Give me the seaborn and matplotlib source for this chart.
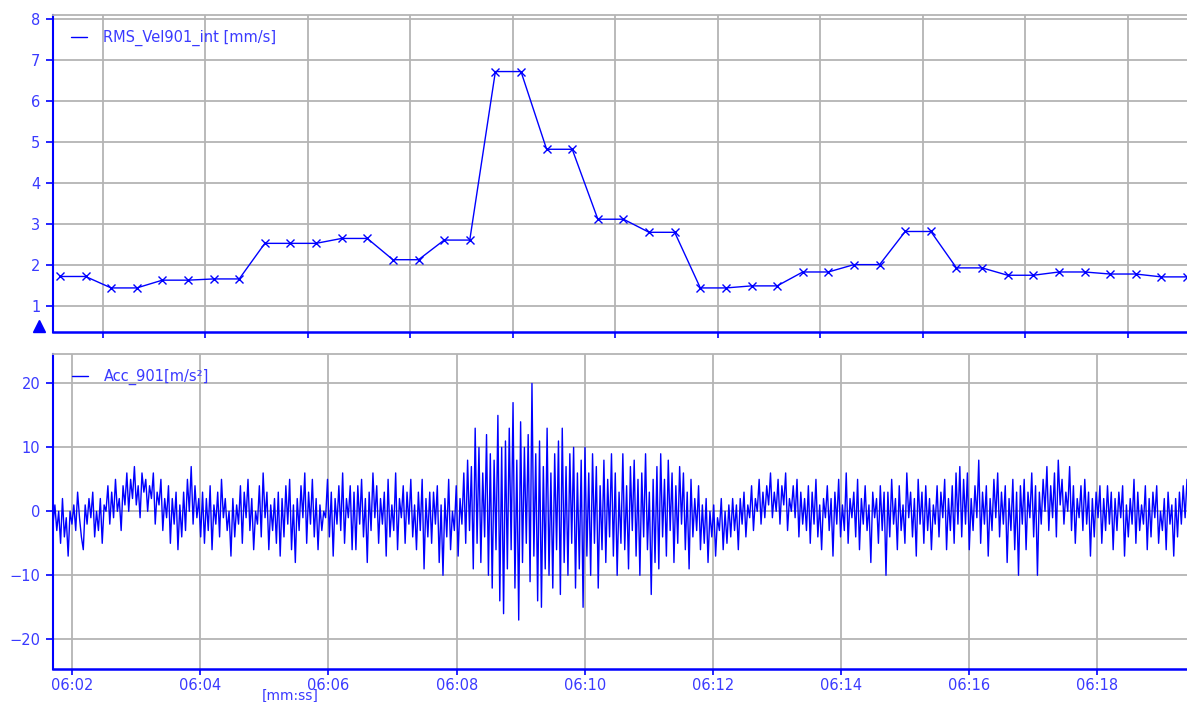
import numpy as np
import pandas as pd
import matplotlib
matplotlib.use("Agg")
import matplotlib.pyplot as plt
from matplotlib.lines import Line2D
from matplotlib.ticker import FixedLocator, FuncFormatter, NullFormatter
import seaborn as sns

# ---------------- data ----------------
# RMS velocity (top panel), one value per RMS block
rms_values = [1.71, 1.71, 1.43, 1.43, 1.62, 1.62, 1.65, 1.65, 2.52, 2.52,
              2.52, 2.64, 2.64, 2.12, 2.12, 2.60, 2.60, 6.72, 6.72, 4.82,
              4.82, 3.11, 3.11, 2.79, 2.79, 1.43, 1.43, 1.48, 1.48, 1.82,
              1.82, 2.00, 2.00, 2.81, 2.81, 1.92, 1.92, 1.74, 1.74, 1.82,
              1.82, 1.77, 1.77, 1.70, 1.70]
rms_label = "RMS_Vel901_int [mm/s]"

# Acceleration signal (bottom panel), sampled uniformly
acc_start_s = 361.70     # 06:01.70
acc_end_s = 379.40       # 06:19.40
acc_values = [
    -2, 1, -3, 0, -5, 2, -4, -1, -7, 0, -2, 1, -3, 3, -1, -4, -6, 1, -2, 2,
    -1, 3, -4, 0, -3, 2, -5, 1, 0, 4, -2, 3, -1, 5, 0, 2, -3, 4, 1, 6,
    0, 5, 2, 7, 1, 4, -1, 6, 3, 5, 0, 4, 2, 6, -2, 3, 1, 5, -3, 2,
    -1, 4, -5, 2, -2, 3, -6, 1, -4, 3, -3, 5, 0, 7, -2, 4, -1, 2, -4, 3,
    -5, 2, -3, 4, -6, 1, -2, 3, -4, 5, -1, 2, -3, 0, -7, 2, -4, 1, -2, 4,
    -5, 3, -1, 5, -3, 2, -6, 0, -2, 4, -4, 6, -1, 3, -6, 1, -3, 2, -5, 3,
    -7, 2, -4, 4, -2, 5, -6, 1, -8, 2, -3, 4, -1, 6, -5, 3, -2, 5, -4, 2,
    -6, 1, -3, 0, -1, 5, -4, 3, -7, 2, -2, 4, -3, 6, -5, 2, -1, 4, -6, 3,
    -6, 4, -2, 5, -4, 2, -8, 3, -3, 6, -1, 4, -5, 2, -2, 3, -7, 5, -4, 1,
    -3, 6, -6, 2, -1, 4, -5, 3, -2, 5, -4, 1, -6, 3, -3, 5, -9, 2, -4, 3,
    -5, 3, -2, 4, -8, 1, -10, 2, -4, 5, -6, 0, -3, 4, -7, 2, -2, 6, -5, 8,
    -3, 7, -9, 13, -5, 10, -8, 6, -4, 12, -10, 9, -12, 8, -6, 15, -14, 10, -16, 11,
    -9, 13, -6, 17, -12, 8, -17, 14, -8, 10, -5, 12, -11, 20, -7, 9, -14, 11, -15, 7,
    -9, 13, -10, 6, -12, 9, -6, 11, -13, 13, -8, 7, -10, 9, -5, 10, -12, 6, -9, 8,
    -15, 10, -7, 6, -10, 9, -5, 7, -12, 4, -6, 8, -8, 5, -4, 9, -7, 6, -10, 3,
    -5, 9, -6, 4, -9, 7, -3, 8, -7, 5, -10, 6, -4, 9, -6, 3, -13, 5, -8, 7,
    -9, 9, -4, 5, -7, 8, -3, 6, -8, 4, -5, 7, -2, 6, -6, 3, -9, 5, -4, 2,
    -3, 4, -6, 1, -5, 2, -8, 0, -4, 1, -7, -1, -3, 2, -6, 0, -5, 1, -4, 2,
    -3, 1, -6, 2, -2, 3, -4, 1, -1, 4, -3, 2, 0, 5, -2, 3, -1, 4, 1, 6,
    -1, 3, 0, 5, -2, 4, 1, 6, -3, 2, 0, 4, -1, 5, -4, 3, -2, 2, -3, 4,
    -5, 3, -2, 5, -4, 1, -6, 2, -1, 4, -3, 2, -7, 3, -2, 5, -4, 1, -3, 6,
    -5, 2, -1, 3, -4, 5, -6, 2, -2, 4, -3, 1, -8, 3, -1, 2, -5, 4, -3, 3,
    -10, 3, -4, 5, -2, 2, -6, 4, -3, 1, -5, 6, -1, 3, -4, 2, -7, 5, -2, 3,
    -5, 4, -3, 2, -6, 1, -2, 4, -4, 3, -1, 5, -6, 2, -3, 4, -5, 6, -2, 7,
    -4, 5, -2, 6, -6, 2, -3, 4, -1, 8, -5, 3, -2, 4, -7, 2, -3, 5, -1, 6,
    -4, 3, -2, 4, -8, 2, -3, 5, -6, 3, -10, 4, -2, 5, -6, 3, -1, 6, -4, 4,
    -10, 3, -2, 5, 0, 7, -3, 4, -1, 6, -4, 8, 1, 5, -2, 3, 0, 7, -3, 4,
    -5, 2, -1, 4, -3, 5, -2, 3, -7, 2, -4, 3, -1, 4, -5, 2, -3, 4, -2, 3,
    -6, 2, -3, 3, -1, 4, -7, 1, -4, 2, -2, 5, -5, 3, -3, 1, -2, 4, -6, 2,
    -4, 3, -1, 4, -5, 0, -3, 2, -6, 3, -2, 1, -7, 2, -4, 3, -2, 4, -1, 5,
]
acc_label = "Acc_901[m/s\u00b2]"

time_ticks_s = [362, 364, 366, 368, 370, 372, 374, 376, 378]
rms_yticks = [1, 2, 3, 4, 5, 6, 7, 8]
acc_yticks = [-20, -10, 0, 10, 20]
xlabel_text = "[mm:ss]"

# ---------------- frames ----------------
rms_df = pd.DataFrame({"block": np.arange(len(rms_values)), "rms": rms_values})
acc_df = pd.DataFrame({
    "t": np.linspace(acc_start_s, acc_end_s, len(acc_values)),
    "acc": acc_values,
})

# ---------------- style ----------------
sns.set_style("white")
plt.rcParams["font.family"] = ["DejaVu Sans"]
BLUE = "#0000ff"
TXT = "#3a3aff"
GRID = "#b4b4b4"

W, H = 1187, 702
fig = plt.figure(figsize=(W / 100, H / 100), dpi=100)
L, R = 53, 1187
ax1 = fig.add_axes([L / W, 1 - 331.7 / H, (R - L) / W, (331.7 - 14.7) / H])
ax2 = fig.add_axes([L / W, 1 - 669.3 / H, (R - L) / W, (669.3 - 354) / H])

# ---------------- top panel ----------------
sns.lineplot(data=rms_df, x="block", y="rms", ax=ax1, color=BLUE, lw=1.0,
             marker="x", markersize=6, markeredgewidth=1.0, markeredgecolor=BLUE,
             legend=False)
ax1.set_xlim(-0.27, 44.0)
ax1.set_ylim(0.36, 8.11)
ax1.xaxis.set_major_locator(FixedLocator(np.arange(1.68, 44.0, 4)))
ax1.xaxis.set_major_formatter(NullFormatter())
ax1.set_yticks(rms_yticks)
ax1.set_xlabel("")
ax1.set_ylabel("")
ax1.grid(True, color=GRID, lw=1.3)
ax1.set_axisbelow(True)
ax1.plot([-0.012], [0.018], marker="^", color=BLUE, markersize=8,
         transform=ax1.transAxes, clip_on=False)
ax1.legend(handles=[Line2D([], [], color=BLUE, lw=1.0)], labels=[rms_label],
           loc="center left", bbox_to_anchor=((71 - L) / (R - L), 0.926),
           frameon=False, handlelength=1.1, handletextpad=1.1, borderpad=0,
           borderaxespad=0, labelcolor=TXT, fontsize=10.5)

# ---------------- bottom panel ----------------
sns.lineplot(data=acc_df, x="t", y="acc", ax=ax2, color=BLUE, lw=1.0,
             sort=False, legend=False)
ax2.set_xlim(acc_start_s, acc_end_s)
ax2.set_ylim(-24.7, 24.6)
ax2.set_xticks(time_ticks_s)
ax2.xaxis.set_major_formatter(FuncFormatter(lambda v, p: f"{int(v // 60):02d}:{int(round(v % 60)):02d}"))
ax2.set_yticks(acc_yticks)
ax2.set_ylabel("")
ax2.grid(True, color=GRID, lw=1.3)
ax2.set_axisbelow(True)
ax2.legend(handles=[Line2D([], [], color=BLUE, lw=1.0)], labels=[acc_label],
           loc="center left", bbox_to_anchor=((72 - L) / (R - L), 0.927),
           frameon=False, handlelength=1.1, handletextpad=1.1, borderpad=0,
           borderaxespad=0, labelcolor=TXT, fontsize=10.5)
ax2.set_xlabel(xlabel_text, color=TXT, fontsize=10)
ax2.xaxis.set_label_coords((290 - L) / (R - L), -0.062)

# ---------------- spines & ticks ----------------
for ax in (ax1, ax2):
    ax.spines["left"].set_color(BLUE)
    ax.spines["left"].set_linewidth(1.5)
    ax.spines["bottom"].set_color(BLUE)
    ax.spines["bottom"].set_linewidth(1.8)
    ax.spines["top"].set_color(GRID)
    ax.spines["top"].set_linewidth(1.3)
    ax.spines["right"].set_visible(False)
    ax.tick_params(axis="both", which="major", direction="out", colors=BLUE,
                   labelcolor=TXT, labelsize=10.5, length=5, width=1.2,
                   left=True, bottom=True)
    ax.tick_params(axis="x", length=4, pad=2)
    ax.tick_params(axis="y", pad=4)

fig.savefig("out.png", dpi=100)
